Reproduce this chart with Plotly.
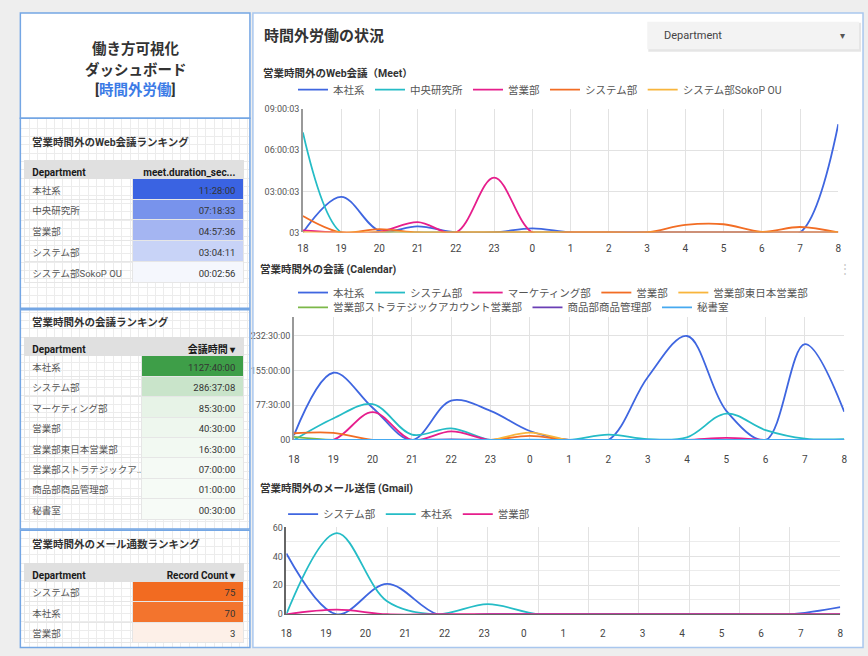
import plotly.graph_objects as go

W, H = 868, 656
FONT = "Roboto, 'Noto Sans CJK JP', sans-serif"
NBSP = "\u00a0"


def fx(px):
    return px / W


def fy(py):
    return 1 - py / H


# ---------------- data ----------------
hours = ["18", "19", "20", "21", "22", "23", "0", "1", "2", "3", "4", "5", "6", "7", "8"]

# Web会議 (Meet) – hours
meet_names = ["本社系", "中央研究所", "営業部", "システム部", "システム部SokoP OU"]
meet_honsha = [0, 2.6, 0.12, 0.45, 0, 0, 0.3, 0, 0, 0, 0, 0, 0, 0, 7.9]
meet_chuo = [7.3, 0, 0, 0, 0, 0, 0, 0, 0, 0, 0, 0, 0, 0, 0]
meet_eigyo = [0.15, 0, 0.05, 0.75, 0, 4.0, 0, 0, 0, 0, 0, 0, 0, 0, 0]
meet_system = [1.2, 0, 0.25, 0, 0, 0, 0, 0, 0, 0, 0.55, 0.6, 0.05, 0.4, 0]
meet_sokop = [0.03, 0, 0.02, 0, 0, 0, 0, 0, 0, 0, 0, 0, 0, 0, 0]
meet_tickvals = [0, 3, 6, 9]
meet_ticktext = ["03", "03:00:03", "06:00:03", "09:00:03"]

# 会議 (Calendar) – hours
cal_names = ["本社系", "システム部", "マーケティング部", "営業部", "営業部東日本営業部",
             "営業部ストラテジックアカウント営業部", "商品部商品管理部", "秘書室"]
cal_honsha = [11, 150, 72, 0, 88, 65, 20, 0, 0, 140, 232, 65, 0, 214, 63]
cal_system = [0, 48, 80, 12, 26, 0, 0, 0, 12, 2, 6, 59, 22, 3, 2]
cal_marketing = [0, 0, 62, 0, 19, 0, 0, 0, 0, 0, 0, 4.5, 0, 0, 0]
cal_eigyo = [15, 16, 0, 0, 0, 0, 9, 0, 0, 0, 0, 0, 0, 0, 0]
cal_higashi = [0, 0, 0, 0, 0, 0, 16.5, 0, 0, 0, 0, 0, 0, 0, 0]
cal_strategic = [7, 0, 0, 0, 0, 0, 0, 0, 0, 0, 0, 0, 0, 0, 0]
cal_shohin = [0, 0, 0, 0, 1, 0, 0, 0, 0, 0, 0, 0, 0, 0, 0]
cal_hisho = [0, 0, 0, 0, 0, 0, 0.5, 0, 0, 0, 0, 0, 0, 0, 0]
cal_tickvals = [0, 77.5, 155, 232.5]
cal_ticktext = ["00", "77:30:00", "155:00:00", "232:30:00"]

# メール送信 (Gmail) – counts at evenly spaced slots
gmail_names = ["システム部", "本社系", "営業部"]
gmail_slots = [0, 1, 2, 3, 4, 5, 6, 7, 8, 9, 10, 11]
gmail_system = [42, 0, 21, 0, 0, 0, 0, 0, 0, 0, 0, 5]
gmail_honsha = [0, 56, 9, 0, 7, 0, 0, 0, 0, 0, 0, 0]
gmail_eigyo = [0, 3.2, 0, 0, 0, 0, 0, 0, 0, 0, 0, 0]

# Ranking tables
rank1_names = ["本社系", "中央研究所", "営業部", "システム部", "システム部SokoP OU"]
rank1_values = ["11:28:00", "07:18:33", "04:57:36", "03:04:11", "00:02:56"]
rank2_names = ["本社系", "システム部", "マーケティング部", "営業部", "営業部東日本営業部",
               "営業部ストラテジックア…", "商品部商品管理部", "秘書室"]
rank2_values = ["1127:40:00", "286:37:08", "85:30:00", "40:30:00", "16:30:00",
                "07:00:00", "01:00:00", "00:30:00"]
rank3_names = ["システム部", "本社系", "営業部"]
rank3_values = ["75", "70", "3"]

# ---------------- styles ----------------
BLUE = "#3f66e0"
TEAL = "#25bcc6"
MAGENTA = "#e61e8c"
ORANGE = "#f26d24"
YELLOW = "#f8b53c"
GREEN = "#7cb849"
PURPLE = "#6a3fb5"
LIGHTBLUE = "#46a9f0"

meet_colors = [BLUE, TEAL, MAGENTA, ORANGE, YELLOW]
cal_colors = [BLUE, TEAL, MAGENTA, ORANGE, YELLOW, GREEN, PURPLE, LIGHTBLUE]
gmail_colors = [BLUE, TEAL, MAGENTA]

fig = go.Figure()

for name, vals, col in zip(meet_names,
                           [meet_honsha, meet_chuo, meet_eigyo, meet_system, meet_sokop],
                           meet_colors):
    fig.add_trace(go.Scatter(x=hours, y=vals, name=name, mode="lines",
                             line=dict(color=col, width=1.8, shape="spline", smoothing=1),
                             xaxis="x", yaxis="y", legend="legend", hoverinfo="skip"))

cal_series = [cal_honsha, cal_system, cal_marketing, cal_eigyo, cal_higashi,
              cal_strategic, cal_shohin, cal_hisho]
for i, (name, vals, col) in enumerate(zip(cal_names, cal_series, cal_colors)):
    fig.add_trace(go.Scatter(x=hours, y=vals, name=name, mode="lines",
                             line=dict(color=col, width=1.8, shape="spline", smoothing=1),
                             xaxis="x2", yaxis="y2",
                             legend="legend2" if i < 5 else "legend3", hoverinfo="skip"))

for name, vals, col in zip(gmail_names, [gmail_system, gmail_honsha, gmail_eigyo], gmail_colors):
    fig.add_trace(go.Scatter(x=gmail_slots, y=vals, name=name, mode="lines",
                             line=dict(color=col, width=1.8, shape="spline", smoothing=1),
                             xaxis="x6", yaxis="y3", legend="legend4", hoverinfo="skip"))

# invisible helpers for label axis and background grid
fig.add_trace(go.Scatter(x=[None], y=[None], xaxis="x3", yaxis="y3", showlegend=False, hoverinfo="skip"))
fig.add_trace(go.Scatter(x=[None], y=[None], xaxis="x4", yaxis="y4", showlegend=False, hoverinfo="skip"))


def nb(s):
    return s.replace(" ", NBSP)


def make_table(names, values, header2, fills, top_px, head_h, row_h, colw):
    n = len(names)
    bottom_px = top_px + head_h + n * row_h + 6
    return go.Table(
        domain=dict(x=[fx(18.5), fx(240.5)], y=[fy(bottom_px), fy(top_px)]),
        columnwidth=colw,
        header=dict(values=["Department", nb(header2)],
                    fill_color="#e0e0e0", align=["left", "right"],
                    font=dict(family=FONT, size=10, color="#1a1a1a", weight="bold"),
                    height=head_h, line=dict(color="#e0e0e0", width=1)),
        cells=dict(values=[[nb(s) for s in names], values],
                   fill_color=[["rgba(255,255,255,0)"] * n, fills],
                   align=["left", "right"],
                   font=dict(family=FONT, size=9.5, color=[["#555"] * n, ["#333"] * n]),
                   height=row_h, line=dict(color="#e6e6e6", width=1)),
    )


fig.add_trace(make_table(rank1_names, rank1_values, "meet.duration_sec...",
                         ["#3a63e2", "#7893ec", "#a4b5f2", "#c8d3f7", "#f5f7fd"],
                         158, 18, 20.7, [107, 109]))
fig.add_trace(make_table(rank2_names, rank2_values, "会議時間 ▾",
                         ["#3e9e48", "#c9e4ca", "#e7f3e7", "#eef7ee", "#f2f9f2",
                          "#f5faf5", "#f6fbf6", "#f7fbf7"],
                         338, 18, 20.4, [116, 100]))
fig.add_trace(make_table(rank3_names, rank3_values, "Record Count ▾",
                         ["#f26b21", "#f3742d", "#fdf0e8"],
                         567, 18, 20.5, [107, 109]))

GRID = "#e2e2e2"
tickfont_x = dict(family=FONT, size=10, color="#444")
tickfont_y = dict(family=FONT, size=9, color="#555")

fig.update_layout(
    width=W, height=H,
    margin=dict(l=0, r=0, t=0, b=0),
    paper_bgcolor="#eeeeee",
    plot_bgcolor="rgba(0,0,0,0)",
    font=dict(family=FONT, color="#333"),
    xaxis=dict(domain=[fx(300), fx(841)], anchor="y", type="category",
               categoryorder="array", categoryarray=hours, range=[0, 14],
               showgrid=True, gridcolor=GRID, zeroline=False, tickfont=tickfont_x,
               ticks="outside", ticklen=7, tickcolor="rgba(0,0,0,0)", fixedrange=True),
    yaxis=dict(domain=[fy(231), fy(105.7)], anchor="x", range=[0, 9],
               tickvals=meet_tickvals, ticktext=meet_ticktext, showgrid=True, gridcolor=GRID,
               zeroline=False, showline=True, linecolor="#999", linewidth=1.5,
               tickfont=tickfont_y, fixedrange=True),
    xaxis2=dict(domain=[fx(291), fx(847)], anchor="y2", type="category",
                categoryorder="array", categoryarray=hours, range=[0, 14],
                showgrid=True, gridcolor=GRID, zeroline=False, tickfont=tickfont_x,
                ticks="outside", ticklen=10, tickcolor="rgba(0,0,0,0)", fixedrange=True),
    yaxis2=dict(domain=[fy(441.7), fy(317)], anchor="x2", range=[0, 274],
                tickvals=cal_tickvals, ticktext=cal_ticktext, showgrid=True, gridcolor=GRID,
                zeroline=False, showline=True, linecolor="#999", linewidth=1.5,
                tickfont=tickfont_y, fixedrange=True),
    xaxis3=dict(domain=[fx(283.3), fx(843)], anchor="y3", range=[0, 14],
                tickvals=list(range(len(hours))), ticktext=hours,
                showgrid=False, zeroline=False, showline=True, linecolor="#666", linewidth=1,
                tickfont=tickfont_x, ticks="outside", ticklen=10,
                tickcolor="rgba(0,0,0,0)", fixedrange=True),
    xaxis6=dict(overlaying="x3", anchor="y3", range=[0, len(gmail_slots) - 1], dtick=1,
                showgrid=True, gridcolor=GRID, showticklabels=False, zeroline=False,
                fixedrange=True),
    yaxis3=dict(domain=[fy(618.7), fy(530.5)], anchor="x3", range=[0, 60], dtick=20,
                showgrid=True, gridcolor=GRID, zeroline=False,
                minor=dict(dtick=10, showgrid=True, gridcolor="#ececec"),
                showline=True, linecolor="#666", linewidth=1.5,
                tickfont=tickfont_y, fixedrange=True),
    xaxis4=dict(domain=[fx(15), fx(246)], anchor="y4", range=[0, 231], dtick=8.5,
                showgrid=True, gridcolor="#ececec", showticklabels=False, zeroline=False,
                fixedrange=True),
    yaxis4=dict(domain=[fy(652), fy(116)], anchor="x4", range=[0, 536], dtick=8.5,
                showgrid=True, gridcolor="#ececec", showticklabels=False, zeroline=False,
                fixedrange=True),
    showlegend=True,
)

legend_common = dict(orientation="h", xanchor="left", yanchor="middle",
                     bgcolor="rgba(0,0,0,0)", itemwidth=30, tracegroupgap=0,
                     font=dict(family=FONT, size=10.5, color="#555"))
fig.update_layout(
    legend=dict(x=fx(290), y=fy(86), **legend_common),
    legend2=dict(x=fx(290), y=fy(292), **legend_common),
    legend3=dict(x=fx(290), y=fy(307), **legend_common),
    legend4=dict(x=fx(280), y=fy(517), **legend_common),
)

BORDER = "#74a6e4"
shapes = [
    # white panels
    dict(type="rect", xref="paper", yref="paper", x0=fx(14), x1=fx(247), y0=fy(653), y1=fy(8),
         fillcolor="white", line=dict(width=0), layer="below"),
    dict(type="rect", xref="paper", yref="paper", x0=fx(249), x1=fx(866), y0=fy(653), y1=fy(8),
         fillcolor="white", line=dict(width=0), layer="below"),
    # left boxes
    dict(type="rect", xref="paper", yref="paper", x0=fx(14.5), x1=fx(246.5), y0=fy(115), y1=fy(8),
         fillcolor="white", line=dict(color=BORDER, width=1.5)),
    dict(type="rect", xref="paper", yref="paper", x0=fx(14.5), x1=fx(246.5), y0=fy(308), y1=fy(115),
         line=dict(color=BORDER, width=1.5)),
    dict(type="rect", xref="paper", yref="paper", x0=fx(14.5), x1=fx(246.5), y0=fy(532), y1=fy(309.5),
         line=dict(color=BORDER, width=1.5)),
    dict(type="rect", xref="paper", yref="paper", x0=fx(14.5), x1=fx(246.5), y0=fy(652.5), y1=fy(533.5),
         line=dict(color=BORDER, width=1.5)),
    # right panel border
    dict(type="rect", xref="paper", yref="paper", x0=fx(249.5), x1=fx(866), y0=fy(652.5), y1=fy(8),
         line=dict(color="#a9c7ee", width=1.5)),
    # dropdown shadow + box
    dict(type="rect", xref="paper", yref="paper", x0=fx(649), x1=fx(864), y0=fy(47.5), y1=fy(18),
         fillcolor="rgba(0,0,0,0.10)", line=dict(width=0)),
    dict(type="rect", xref="paper", yref="paper", x0=fx(648), x1=fx(862), y0=fy(45), y1=fy(17),
         fillcolor="#f3f3f3", line=dict(width=0)),
]

annotations = [
    dict(text="<b>働き方可視化</b>", x=fx(131), y=fy(45), font=dict(size=14.5, color="#333")),
    dict(text="<b>ダッシュボード</b>", x=fx(131), y=fy(66), font=dict(size=14.5, color="#333")),
    dict(text="<b>[<span style='color:#3b7be6'>時間外労働</span>]</b>", x=fx(131), y=fy(87),
         font=dict(size=14.5, color="#333")),
    dict(text="<b>営業時間外のWeb会議ランキング</b>", x=fx(24), y=fy(140), xanchor="left",
         font=dict(size=10.5, color="#333")),
    dict(text="<b>営業時間外の会議ランキング</b>", x=fx(24), y=fy(322), xanchor="left",
         font=dict(size=10.5, color="#333")),
    dict(text="<b>営業時間外のメール通数ランキング</b>", x=fx(24), y=fy(548), xanchor="left",
         font=dict(size=10.5, color="#333")),
    dict(text="<b>時間外労働の状況</b>", x=fx(259), y=fy(31), xanchor="left",
         font=dict(size=15, color="#333")),
    dict(text="Department", x=fx(663), y=fy(31), xanchor="left", font=dict(size=11, color="#444")),
    dict(text="▾", x=fx(845), y=fy(31), font=dict(size=10, color="#555")),
    dict(text="<b>営業時間外のWeb会議（Meet）</b>", x=fx(258), y=fy(70), xanchor="left",
         font=dict(size=10.5, color="#333")),
    dict(text="<b>営業時間外の会議 (Calendar)</b>", x=fx(255), y=fy(269), xanchor="left",
         font=dict(size=10.5, color="#333")),
    dict(text="<b>営業時間外のメール送信 (Gmail)</b>", x=fx(255), y=fy(491), xanchor="left",
         font=dict(size=10.5, color="#333")),
    dict(text="⋮", x=fx(848), y=fy(268), font=dict(size=12, color="#c8c8c8")),
]
for a in annotations:
    a.setdefault("xref", "paper")
    a.setdefault("yref", "paper")
    a.setdefault("showarrow", False)
    a.setdefault("yanchor", "middle")
    a.setdefault("xanchor", "center")
    a["font"].setdefault("family", FONT)

fig.update_layout(shapes=shapes, annotations=annotations)

fig.write_html("out.html")
